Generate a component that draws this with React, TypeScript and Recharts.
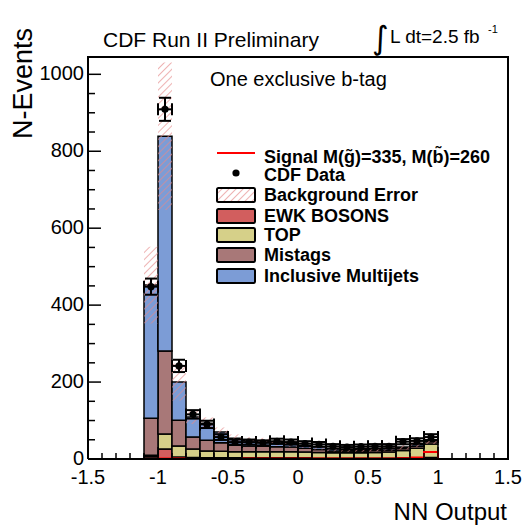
import React from "react";
import {
  ComposedChart,
  Bar,
  Line,
  Scatter,
  ErrorBar,
  XAxis,
  YAxis,
} from "recharts";

// low edge of every 0.1 wide bin on the NN output axis
const binLow = [
  -1.5, -1.4, -1.3, -1.2, -1.1, -1.0, -0.9, -0.8, -0.7, -0.6, -0.5, -0.4, -0.3,
  -0.2, -0.1, 0.0, 0.1, 0.2, 0.3, 0.4, 0.5, 0.6, 0.7, 0.8, 0.9, 1.0, 1.1, 1.2,
  1.3, 1.4,
];

// stacked backgrounds (events per bin)
const ewk = [0, 0, 0, 0, 6, 26, 5, 4, 3, 3, 3, 3, 3, 3, 3, 3, 2, 2, 2, 2, 2, 2, 3, 3, 4, 0, 0, 0, 0, 0];
const top = [0, 0, 0, 0, 4, 39, 29, 22, 18, 17, 16, 16, 16, 16, 16, 15, 15, 14, 14, 14, 15, 16, 19, 25, 35, 0, 0, 0, 0, 0];
const mistags = [0, 0, 0, 0, 96, 216, 67, 31, 28, 22, 17, 15, 14, 13, 12, 10, 8, 5, 5, 5, 5, 5, 5, 5, 6, 0, 0, 0, 0, 0];
const multijets = [0, 0, 0, 0, 346, 558, 99, 52, 44, 28, 18, 14, 13, 10, 9, 8, 7, 5, 4, 4, 4, 5, 4, 5, 3, 0, 0, 0, 0, 0];
const bgError = [0, 0, 0, 0, 100, 192, 48, 18, 15, 12, 10, 9, 9, 8, 8, 7, 7, 6, 6, 6, 6, 6, 6, 7, 9, 0, 0, 0, 0, 0];

// CDF data with errors
const cdfData = [null, null, null, null, 448, 909, 242, 116, 90, 57, 44, 44, 42, 46, 44, 40, 38, 33, 31, 32, 33, 33, 45, 47, 57, null, null, null, null, null];
const cdfErr = [0, 0, 0, 0, 21, 30, 16, 11, 9.5, 7.5, 6.6, 6.6, 6.5, 6.8, 6.6, 6.3, 6.2, 5.7, 5.6, 5.7, 5.7, 5.7, 6.7, 6.9, 7.5, 0, 0, 0, 0, 0];

// signal M(gluino)=335, M(sbottom)=260
const signal = [0, 0, 0, 0, 0, 1, 1, 0, 0, 0, 0, 1, 1, 1, 1, 1, 1, 1, 1, 1, 1, 1, 2, 4, 18, 0, 0, 0, 0, 0];

const xTicks = [
  -1.5, -1.4, -1.3, -1.2, -1.1, -1.0, -0.9, -0.8, -0.7, -0.6, -0.5, -0.4, -0.3,
  -0.2, -0.1, 0, 0.1, 0.2, 0.3, 0.4, 0.5, 0.6, 0.7, 0.8, 0.9, 1.0, 1.1, 1.2,
  1.3, 1.4, 1.5,
];
const xLabels = [-1.5, -1, -0.5, 0, 0.5, 1, 1.5];
const yTicks = [
  0, 50, 100, 150, 200, 250, 300, 350, 400, 450, 500, 550, 600, 650, 700, 750,
  800, 850, 900, 950, 1000,
];
const yLabels = [0, 200, 400, 600, 800, 1000];

const COLORS = {
  ewk: "#d25e5e",
  top: "#d6d089",
  mistags: "#a87878",
  multijets: "#7c9cd6",
  hatch: "#e58a8a",
  signal: "#ff0000",
};
const FONT = "'Liberation Sans', Arial, Helvetica, sans-serif";
const X_MIN = -1.5;
const X_MAX = 1.5;
const Y_MAX = 1045;

// pad geometry
const W = 526;
const H = 530;
const MARGIN = { top: 57, right: 18, bottom: 41, left: 0 };
const Y_AXIS_W = 88;
const X_AXIS_H = 30;
const PAD = {
  left: MARGIN.left + Y_AXIS_W,
  right: W - MARGIN.right,
  top: MARGIN.top,
  bottom: H - MARGIN.bottom - X_AXIS_H,
};

const bins = binLow.map((lo, i) => {
  const total = ewk[i] + top[i] + mistags[i] + multijets[i];
  return {
    bin: String(i),
    x: lo,
    ewk: ewk[i],
    top: top[i],
    mistags: mistags[i],
    multijets: multijets[i],
    band: total > 0 ? [total - bgError[i], total + bgError[i]] : [0, 0],
  };
});

const points = binLow
  .map((lo, i) => ({ x: lo + 0.05, y: cdfData[i], ey: cdfErr[i], ex: 0.05 }))
  .filter((p) => p.y !== null);

const signalSteps = [...binLow, X_MAX].map((x, i) => ({
  x,
  s: signal[Math.min(i, signal.length - 1)],
}));

const isLabel = (list: number[], v: number) =>
  list.some((l) => Math.abs(l - v) < 1e-6);

const XTick = (props: any) => {
  const { x, y, payload } = props;
  const major = isLabel(xLabels, payload.value);
  return (
    <g>
      <line x1={x} x2={x} y1={y} y2={y - (major ? 12 : 6)} stroke="#000" strokeWidth={1.5} />
      {major && (
        <text x={x} y={y + 25} textAnchor="middle" fontSize={20} fontFamily={FONT} fill="#000">
          {String(Math.round(payload.value * 10) / 10)}
        </text>
      )}
    </g>
  );
};

const YTick = (props: any) => {
  const { x, y, payload } = props;
  const major = isLabel(yLabels, payload.value);
  return (
    <g>
      <line x1={x} x2={x + (major ? 13 : 7)} y1={y} y2={y} stroke="#000" strokeWidth={1.5} />
      {major && (
        <text x={x - 4} y={y + 6} textAnchor="end" fontSize={20} fontFamily={FONT} fill="#000">
          {payload.value}
        </text>
      )}
    </g>
  );
};

const DataDot = (props: any) => {
  const { cx, cy } = props;
  return <circle cx={cx} cy={cy} r={3.6} fill="#000" />;
};

const legendBoxes = [
  { label: "Background Error", fill: "url(#hatch)", y: 188 },
  { label: "EWK BOSONS", fill: COLORS.ewk, y: 209 },
  { label: "TOP", fill: COLORS.top, y: 228 },
  { label: "Mistags", fill: COLORS.mistags, y: 248 },
  { label: "Inclusive Multijets", fill: COLORS.multijets, y: 269 },
];

function Overlay() {
  const txt = { fontFamily: FONT, fill: "#000" };
  return (
    <svg
      width={W}
      height={H}
      style={{ position: "absolute", left: 0, top: 0, pointerEvents: "none", zIndex: 5 }}
    >
      {/* top and right edges of the pad frame, as filled strips */}
      <rect x={PAD.left - 1} y={PAD.top - 1} width={PAD.right - PAD.left + 2} height={2} fill="#000" />
      <rect x={PAD.right - 1} y={PAD.top - 1} width={2} height={PAD.bottom - PAD.top + 2} fill="#000" />

      <text x={103} y={47} fontSize={21} {...txt}>CDF Run II Preliminary</text>
      <text x={372} y={49} fontSize={32} fontFamily="'DejaVu Sans', sans-serif">∫</text>
      <text x={390} y={43} fontSize={19} {...txt}>L dt=2.5 fb</text>
      <text x={488} y={33} fontSize={11} {...txt}>-1</text>
      <text x={210} y={86} fontSize={20} {...txt}>One exclusive b-tag</text>
      <text
        transform="translate(32,28) rotate(-90)"
        textAnchor="end"
        fontSize={27}
        {...txt}
      >
        N-Events
      </text>
      <text x={507} y={520} textAnchor="end" fontSize={24} {...txt}>NN Output</text>

      <g fontWeight="bold" fontSize={18} fontFamily={FONT}>
        <line x1={217} x2={255} y1={153} y2={153} stroke={COLORS.signal} strokeWidth={2} />
        <text x={264} y={162.5}>Signal M(g&#x303;)=335, M(b&#x303;)=260</text>
        <circle cx={236} cy={173} r={3.6} fill="#000" />
        <text x={264} y={181}>CDF Data</text>
        {legendBoxes.map((b) => (
          <g key={b.label}>
            <rect x={217} y={b.y} width={38} height={14} rx={1.5} fill={b.fill} stroke="#000" strokeWidth={2} />
            <text x={264} y={b.y + 13}>{b.label}</text>
          </g>
        ))}
      </g>
    </svg>
  );
}

export default function App() {
  const axisLine = { stroke: "#000", strokeWidth: 2 };
  return (
    <div style={{ position: "absolute", left: 0, top: 0, width: W, height: H, background: "#fff" }}>
      <svg width={0} height={0} style={{ position: "absolute" }}>
        <defs>
          <pattern id="hatch" width={5} height={5} patternUnits="userSpaceOnUse" patternTransform="rotate(45)">
            <line x1={0} y1={0} x2={0} y2={5} stroke={COLORS.hatch} strokeWidth={1.3} />
          </pattern>
        </defs>
      </svg>
      <ComposedChart
        width={W}
        height={H}
        data={bins}
        margin={MARGIN}
        barCategoryGap={0}
        barGap={0}
      >
        <XAxis
          xAxisId="num"
          dataKey="x"
          type="number"
          domain={[X_MIN, X_MAX]}
          ticks={xTicks}
          interval={0}
          tickLine={false}
          tickSize={0}
          tickMargin={0}
          tick={<XTick />}
          axisLine={axisLine}
          height={X_AXIS_H}
          allowDataOverflow
        />
        <XAxis xAxisId="bins" dataKey="bin" type="category" hide height={0} />
        <XAxis xAxisId="band" dataKey="bin" type="category" hide height={0} />
        <YAxis
          yAxisId="y"
          dataKey="y"
          type="number"
          domain={[0, Y_MAX]}
          ticks={yTicks}
          interval={0}
          tickLine={false}
          tickSize={0}
          tickMargin={0}
          tick={<YTick />}
          width={Y_AXIS_W}
          axisLine={axisLine}
          allowDataOverflow
        />

        <Bar xAxisId="bins" yAxisId="y" dataKey="ewk" stackId="bg" fill={COLORS.ewk} stroke="#000" strokeWidth={1.5} isAnimationActive={false} />
        <Bar xAxisId="bins" yAxisId="y" dataKey="top" stackId="bg" fill={COLORS.top} stroke="#000" strokeWidth={1.5} isAnimationActive={false} />
        <Bar xAxisId="bins" yAxisId="y" dataKey="mistags" stackId="bg" fill={COLORS.mistags} stroke="#000" strokeWidth={1.5} isAnimationActive={false} />
        <Bar xAxisId="bins" yAxisId="y" dataKey="multijets" stackId="bg" fill={COLORS.multijets} stroke="#000" strokeWidth={1.5} isAnimationActive={false} />
        <Bar xAxisId="band" yAxisId="y" dataKey="band" fill="url(#hatch)" isAnimationActive={false} />

        <Scatter
          data={points}
          xAxisId="num"
          yAxisId="y"
          dataKey="y"
          shape={DataDot}
          isAnimationActive={false}
        >
          <ErrorBar dataKey="ey" direction="y" width={6} stroke="#000" strokeWidth={2} />
          <ErrorBar dataKey="ex" direction="x" width={6} stroke="#000" strokeWidth={2} />
        </Scatter>
        <Line
          data={signalSteps}
          xAxisId="num"
          yAxisId="y"
          dataKey="s"
          type="stepAfter"
          stroke={COLORS.signal}
          strokeWidth={2}
          dot={false}
          isAnimationActive={false}
        />
      </ComposedChart>
      <Overlay />
    </div>
  );
}
